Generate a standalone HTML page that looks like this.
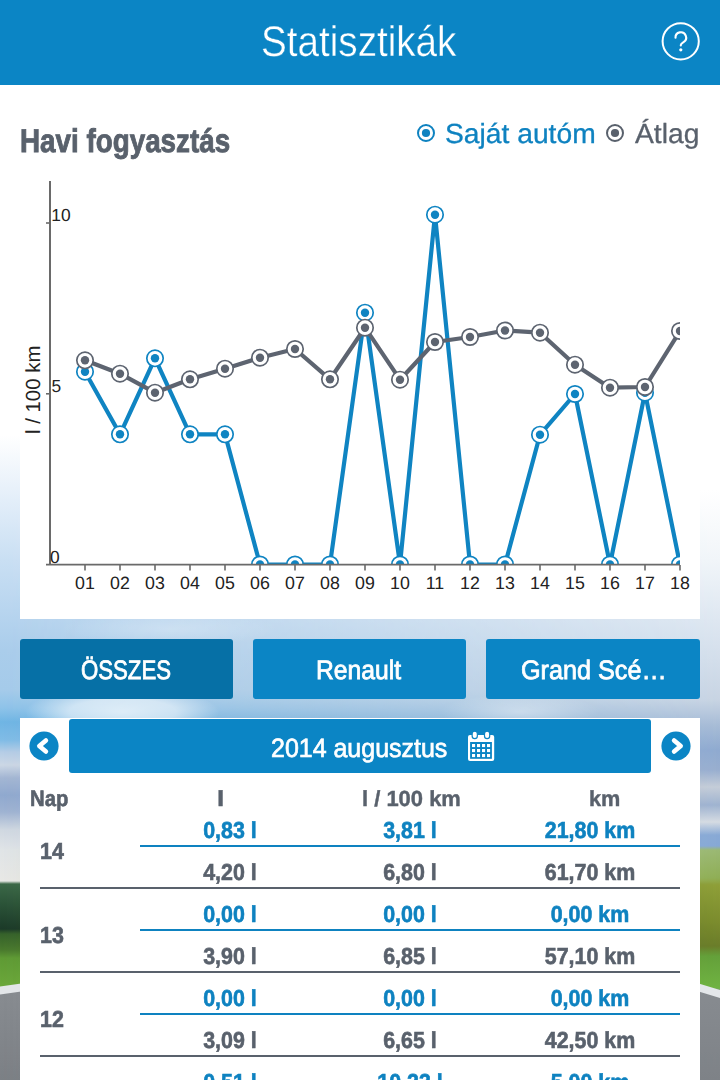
<!DOCTYPE html>
<html lang="hu"><head><meta charset="utf-8"><title>Statisztikák</title><style>
html,body{margin:0;padding:0;}
body{width:720px;height:1080px;overflow:hidden;position:relative;background:#fff;font-family:"Liberation Sans",sans-serif;text-rendering:geometricPrecision;}
#app{position:absolute;left:0;top:0;width:720px;height:1080px;overflow:hidden;}
.abs{position:absolute;}
.t{position:absolute;white-space:nowrap;line-height:1;transform-origin:0 0;display:block;}
.v{position:absolute;white-space:nowrap;line-height:1;font-size:23.1px;font-weight:bold;display:block;transform:scaleX(0.928);transform-origin:0 0;-webkit-text-stroke:0.6px currentColor;}
.v.c{width:180px;text-align:center;transform-origin:50% 0;}
.ln{position:absolute;height:2px;display:block;}
.bgL,.bgR{position:absolute;left:0;top:0;width:720px;height:1080px;}
.bgL{background:linear-gradient(to bottom,#ffffff 0px,#ffffff 435px,#e3eef9 500px,#c9dff3 560px,#b8d5ef 610px,#aacdeb 650px,#a5cbea 690px,#8ec3e9 708px,#6fb5e4 722px,#80bce6 740px,#b5cde6 752px,#ccd7e5 765px,#a3b6d3 778px,#90a9cf 795px,#9fb3d2 812px,#d0d8e1 830px,#e0e4e7 850px,#e8e8e6 881px,#3b6848 884px,#2a5238 905px,#1c3a29 929px,#36622b 934px,#4a7a2e 950px,#5f9a35 958px,#6ca83b 987px,#888c91 990px,#7c8085 1080px);}
.bgR{background:linear-gradient(to bottom,#ffffff 0px,#ffffff 490px,#f1f5f9 560px,#dee7f1 620px,#d3deeb 660px,#c8d4e3 700px,#a8bcd6 725px,#8faad0 750px,#98aecf 770px,#c5cdd8 787px,#9fb3d0 805px,#d5dbe2 822px,#88a9d5 835px,#86a8d5 846px,#9ab873 850px,#8fae55 878px,#8f9f38 885px,#7d8e2e 920px,#6b7d2a 946px,#64a03a 956px,#70b342 988px,#878b90 991px,#7e8287 1080px);
-webkit-mask-image:linear-gradient(to right,transparent 0px,#000 720px);mask-image:linear-gradient(to right,transparent 0px,#000 720px);}
.cloud{position:absolute;border-radius:50%;}
.hdr{position:absolute;left:0;top:0;width:720px;height:84.5px;background:#0b85c5;}
.panel{position:absolute;background:#fff;}
.btn{position:absolute;top:639.2px;height:59.4px;border-radius:3px;background:#0b85c5;}
.bar{position:absolute;left:69.1px;top:719.0px;width:581.7px;height:53.8px;border-radius:3px;background:#0b85c5;}
.chart{position:absolute;left:0;top:160px;}
</style></head>
<body>
<div id="app">
<div class="bgL"></div><div class="bgR"></div>
<div class="abs" style="left:-3px;top:985.2px;width:26px;height:8px;background:#e3e6e9;transform:skewY(-8deg)"></div>
<div class="abs" style="left:697px;top:986.6px;width:26px;height:7.5px;background:#e4e7ea;transform:skewY(17deg)"></div>
<div class="cloud" style="left:25px;top:688px;width:195px;height:48px;background:radial-gradient(closest-side,rgba(255,255,255,0.7) 0%,rgba(255,255,255,0.55) 55%,rgba(255,255,255,0) 100%)"></div>
<div class="cloud" style="left:440px;top:694px;width:160px;height:36px;background:radial-gradient(closest-side,rgba(255,255,255,0.38),rgba(255,255,255,0))"></div>
<div class="cloud" style="left:60px;top:612px;width:220px;height:34px;background:radial-gradient(closest-side,rgba(255,255,255,0.25),rgba(255,255,255,0))"></div>
<div class="hdr"></div>
<span class="t" style="left:261.27px;top:20.92px;font-size:42.86px;font-weight:normal;color:#ffffff;-webkit-text-stroke:0.4px #0b85c5;transform:scaleX(0.9017)">Statisztikák</span>
<svg class="abs" style="left:656px;top:17px" width="50" height="50" viewBox="656 17 50 50"><circle cx="680.7" cy="41.3" r="18.1" fill="none" stroke="#fff" stroke-width="2"/><path d="M675.5 37.8 a5.3 5.3 0 1 1 8.0 4.3 q-2.7 1.6 -2.7 3.0 v0.4" fill="none" stroke="#fff" stroke-width="2.1" stroke-linecap="round"/><circle cx="680.8" cy="49.8" r="1.6" fill="#fff"/></svg>
<div class="panel" style="left:20px;top:100px;width:680px;height:518.7px"></div>
<span class="t" style="left:20.01px;top:124.74px;font-size:32.85px;font-weight:bold;color:#59616c;-webkit-text-stroke:0.9px #59616c;transform:scaleX(0.8470)">Havi fogyasztás</span>
<svg class="abs" style="left:414.0px;top:120.9px" width="24" height="24" viewBox="0 0 24 24"><circle cx="12" cy="12" r="8.0" fill="#fff" stroke="#0e82c0" stroke-width="2"/><circle cx="12" cy="12" r="4.1" fill="#0e82c0"/></svg><span class="t" style="left:445.02px;top:120.22px;font-size:27.68px;font-weight:normal;color:#0e82c0;-webkit-text-stroke:0.3px #0e82c0;transform:scaleX(1.0202)">Saját autóm</span>
<svg class="abs" style="left:602.8px;top:120.9px" width="24" height="24" viewBox="0 0 24 24"><circle cx="12" cy="12" r="8.0" fill="#fff" stroke="#59616c" stroke-width="2"/><circle cx="12" cy="12" r="4.1" fill="#59616c"/></svg><span class="t" style="left:635.15px;top:120.22px;font-size:27.68px;font-weight:normal;color:#59616c;-webkit-text-stroke:0.3px #59616c;transform:scaleX(1.0204)">Átlag</span>
<svg class="chart" width="720" height="460" viewBox="0 160 720 460">
<defs><clipPath id="plot"><rect x="50" y="170" width="630" height="394.5"/></clipPath></defs>
<g clip-path="url(#plot)"><polyline points="85,371.7 120,434.3 155,358.3 190,434.3 225,434.3 260,564.5 295,564.5 330,564.5 365,312.7 400,564.5 435,214.7 470,564.5 505,564.5 540,434.7 575,394.0 610,564.5 645,392.7 680,564.5" fill="none" stroke="#0f84c2" stroke-width="4.2" stroke-linejoin="round"/>
<circle cx="85" cy="371.7" r="8.2" fill="#fff" stroke="#0f84c2" stroke-width="1.7"/><circle cx="85" cy="371.7" r="4.2" fill="#0f84c2"/>
<circle cx="120" cy="434.3" r="8.2" fill="#fff" stroke="#0f84c2" stroke-width="1.7"/><circle cx="120" cy="434.3" r="4.2" fill="#0f84c2"/>
<circle cx="155" cy="358.3" r="8.2" fill="#fff" stroke="#0f84c2" stroke-width="1.7"/><circle cx="155" cy="358.3" r="4.2" fill="#0f84c2"/>
<circle cx="190" cy="434.3" r="8.2" fill="#fff" stroke="#0f84c2" stroke-width="1.7"/><circle cx="190" cy="434.3" r="4.2" fill="#0f84c2"/>
<circle cx="225" cy="434.3" r="8.2" fill="#fff" stroke="#0f84c2" stroke-width="1.7"/><circle cx="225" cy="434.3" r="4.2" fill="#0f84c2"/>
<circle cx="260" cy="564.5" r="8.2" fill="#fff" stroke="#0f84c2" stroke-width="1.7"/><circle cx="260" cy="564.5" r="4.2" fill="#0f84c2"/>
<circle cx="295" cy="564.5" r="8.2" fill="#fff" stroke="#0f84c2" stroke-width="1.7"/><circle cx="295" cy="564.5" r="4.2" fill="#0f84c2"/>
<circle cx="330" cy="564.5" r="8.2" fill="#fff" stroke="#0f84c2" stroke-width="1.7"/><circle cx="330" cy="564.5" r="4.2" fill="#0f84c2"/>
<circle cx="365" cy="312.7" r="8.2" fill="#fff" stroke="#0f84c2" stroke-width="1.7"/><circle cx="365" cy="312.7" r="4.2" fill="#0f84c2"/>
<circle cx="400" cy="564.5" r="8.2" fill="#fff" stroke="#0f84c2" stroke-width="1.7"/><circle cx="400" cy="564.5" r="4.2" fill="#0f84c2"/>
<circle cx="435" cy="214.7" r="8.2" fill="#fff" stroke="#0f84c2" stroke-width="1.7"/><circle cx="435" cy="214.7" r="4.2" fill="#0f84c2"/>
<circle cx="470" cy="564.5" r="8.2" fill="#fff" stroke="#0f84c2" stroke-width="1.7"/><circle cx="470" cy="564.5" r="4.2" fill="#0f84c2"/>
<circle cx="505" cy="564.5" r="8.2" fill="#fff" stroke="#0f84c2" stroke-width="1.7"/><circle cx="505" cy="564.5" r="4.2" fill="#0f84c2"/>
<circle cx="540" cy="434.7" r="8.2" fill="#fff" stroke="#0f84c2" stroke-width="1.7"/><circle cx="540" cy="434.7" r="4.2" fill="#0f84c2"/>
<circle cx="575" cy="394.0" r="8.2" fill="#fff" stroke="#0f84c2" stroke-width="1.7"/><circle cx="575" cy="394.0" r="4.2" fill="#0f84c2"/>
<circle cx="610" cy="564.5" r="8.2" fill="#fff" stroke="#0f84c2" stroke-width="1.7"/><circle cx="610" cy="564.5" r="4.2" fill="#0f84c2"/>
<circle cx="645" cy="392.7" r="8.2" fill="#fff" stroke="#0f84c2" stroke-width="1.7"/><circle cx="645" cy="392.7" r="4.2" fill="#0f84c2"/>
<circle cx="680" cy="564.5" r="8.2" fill="#fff" stroke="#0f84c2" stroke-width="1.7"/><circle cx="680" cy="564.5" r="4.2" fill="#0f84c2"/>
</g>
<g clip-path="url(#plot)"><polyline points="85,360.3 120,373.7 155,392.7 190,379.3 225,368.7 260,357.7 295,349.0 330,379.3 365,327.7 400,379.7 435,342.0 470,337.0 505,330.5 540,332.7 575,364.7 610,387.7 645,387.0 680,331.0" fill="none" stroke="#5d6470" stroke-width="4.2" stroke-linejoin="round"/>
<circle cx="85" cy="360.3" r="8.2" fill="#fff" stroke="#5d6470" stroke-width="1.7"/><circle cx="85" cy="360.3" r="4.2" fill="#5d6470"/>
<circle cx="120" cy="373.7" r="8.2" fill="#fff" stroke="#5d6470" stroke-width="1.7"/><circle cx="120" cy="373.7" r="4.2" fill="#5d6470"/>
<circle cx="155" cy="392.7" r="8.2" fill="#fff" stroke="#5d6470" stroke-width="1.7"/><circle cx="155" cy="392.7" r="4.2" fill="#5d6470"/>
<circle cx="190" cy="379.3" r="8.2" fill="#fff" stroke="#5d6470" stroke-width="1.7"/><circle cx="190" cy="379.3" r="4.2" fill="#5d6470"/>
<circle cx="225" cy="368.7" r="8.2" fill="#fff" stroke="#5d6470" stroke-width="1.7"/><circle cx="225" cy="368.7" r="4.2" fill="#5d6470"/>
<circle cx="260" cy="357.7" r="8.2" fill="#fff" stroke="#5d6470" stroke-width="1.7"/><circle cx="260" cy="357.7" r="4.2" fill="#5d6470"/>
<circle cx="295" cy="349.0" r="8.2" fill="#fff" stroke="#5d6470" stroke-width="1.7"/><circle cx="295" cy="349.0" r="4.2" fill="#5d6470"/>
<circle cx="330" cy="379.3" r="8.2" fill="#fff" stroke="#5d6470" stroke-width="1.7"/><circle cx="330" cy="379.3" r="4.2" fill="#5d6470"/>
<circle cx="365" cy="327.7" r="8.2" fill="#fff" stroke="#5d6470" stroke-width="1.7"/><circle cx="365" cy="327.7" r="4.2" fill="#5d6470"/>
<circle cx="400" cy="379.7" r="8.2" fill="#fff" stroke="#5d6470" stroke-width="1.7"/><circle cx="400" cy="379.7" r="4.2" fill="#5d6470"/>
<circle cx="435" cy="342.0" r="8.2" fill="#fff" stroke="#5d6470" stroke-width="1.7"/><circle cx="435" cy="342.0" r="4.2" fill="#5d6470"/>
<circle cx="470" cy="337.0" r="8.2" fill="#fff" stroke="#5d6470" stroke-width="1.7"/><circle cx="470" cy="337.0" r="4.2" fill="#5d6470"/>
<circle cx="505" cy="330.5" r="8.2" fill="#fff" stroke="#5d6470" stroke-width="1.7"/><circle cx="505" cy="330.5" r="4.2" fill="#5d6470"/>
<circle cx="540" cy="332.7" r="8.2" fill="#fff" stroke="#5d6470" stroke-width="1.7"/><circle cx="540" cy="332.7" r="4.2" fill="#5d6470"/>
<circle cx="575" cy="364.7" r="8.2" fill="#fff" stroke="#5d6470" stroke-width="1.7"/><circle cx="575" cy="364.7" r="4.2" fill="#5d6470"/>
<circle cx="610" cy="387.7" r="8.2" fill="#fff" stroke="#5d6470" stroke-width="1.7"/><circle cx="610" cy="387.7" r="4.2" fill="#5d6470"/>
<circle cx="645" cy="387.0" r="8.2" fill="#fff" stroke="#5d6470" stroke-width="1.7"/><circle cx="645" cy="387.0" r="4.2" fill="#5d6470"/>
<circle cx="680" cy="331.0" r="8.2" fill="#fff" stroke="#5d6470" stroke-width="1.7"/><circle cx="680" cy="331.0" r="4.2" fill="#5d6470"/>
</g>
<g stroke="#6a6a6a" stroke-width="1.6" fill="none">
<line x1="50" y1="181" x2="50" y2="565" stroke-width="2"/>
<line x1="46" y1="564.6" x2="680" y2="564.6"/>
<line x1="46" y1="223.0" x2="50" y2="223.0"/>
<line x1="46" y1="393.8" x2="50" y2="393.8"/>
<line x1="85" y1="565" x2="85" y2="570.5"/>
<line x1="120" y1="565" x2="120" y2="570.5"/>
<line x1="155" y1="565" x2="155" y2="570.5"/>
<line x1="190" y1="565" x2="190" y2="570.5"/>
<line x1="225" y1="565" x2="225" y2="570.5"/>
<line x1="260" y1="565" x2="260" y2="570.5"/>
<line x1="295" y1="565" x2="295" y2="570.5"/>
<line x1="330" y1="565" x2="330" y2="570.5"/>
<line x1="365" y1="565" x2="365" y2="570.5"/>
<line x1="400" y1="565" x2="400" y2="570.5"/>
<line x1="435" y1="565" x2="435" y2="570.5"/>
<line x1="470" y1="565" x2="470" y2="570.5"/>
<line x1="505" y1="565" x2="505" y2="570.5"/>
<line x1="540" y1="565" x2="540" y2="570.5"/>
<line x1="575" y1="565" x2="575" y2="570.5"/>
<line x1="610" y1="565" x2="610" y2="570.5"/>
<line x1="645" y1="565" x2="645" y2="570.5"/>
<line x1="680" y1="565" x2="680" y2="570.5"/>
</g>
<g font-family="'Liberation Sans', sans-serif" fill="#222" font-size="17.4">
<text x="51.3" y="221.4">10</text>
<text x="51.4" y="392.2">5</text>
<text x="50.0" y="563.0">0</text>
<text x="85" y="588.6" text-anchor="middle" font-size="17.8">01</text>
<text x="120" y="588.6" text-anchor="middle" font-size="17.8">02</text>
<text x="155" y="588.6" text-anchor="middle" font-size="17.8">03</text>
<text x="190" y="588.6" text-anchor="middle" font-size="17.8">04</text>
<text x="225" y="588.6" text-anchor="middle" font-size="17.8">05</text>
<text x="260" y="588.6" text-anchor="middle" font-size="17.8">06</text>
<text x="295" y="588.6" text-anchor="middle" font-size="17.8">07</text>
<text x="330" y="588.6" text-anchor="middle" font-size="17.8">08</text>
<text x="365" y="588.6" text-anchor="middle" font-size="17.8">09</text>
<text x="400" y="588.6" text-anchor="middle" font-size="17.8">10</text>
<text x="435" y="588.6" text-anchor="middle" font-size="17.8">11</text>
<text x="470" y="588.6" text-anchor="middle" font-size="17.8">12</text>
<text x="505" y="588.6" text-anchor="middle" font-size="17.8">13</text>
<text x="540" y="588.6" text-anchor="middle" font-size="17.8">14</text>
<text x="575" y="588.6" text-anchor="middle" font-size="17.8">15</text>
<text x="610" y="588.6" text-anchor="middle" font-size="17.8">16</text>
<text x="645" y="588.6" text-anchor="middle" font-size="17.8">17</text>
<text x="680" y="588.6" text-anchor="middle" font-size="17.8">18</text>
<text transform="translate(39.6,389.8) rotate(-90)" text-anchor="middle" font-size="20.4">l / 100 km</text>
</g></svg>
<div class="btn" style="left:20px;width:212.7px;background:#0670a6"></div><span class="t" style="left:81.14px;top:656.89px;font-size:26.71px;font-weight:normal;color:#ffffff;-webkit-text-stroke:0.8px #ffffff;transform:scaleX(0.8309)">ÖSSZES</span>
<div class="btn" style="left:253.3px;width:212.7px"></div><span class="t" style="left:315.69px;top:656.89px;font-size:26.71px;font-weight:normal;color:#ffffff;-webkit-text-stroke:0.8px #ffffff;transform:scaleX(0.9251)">Renault</span>
<div class="btn" style="left:486px;width:214px"></div><span class="t" style="left:520.82px;top:656.89px;font-size:26.71px;font-weight:normal;color:#ffffff;-webkit-text-stroke:0.8px #ffffff;transform:scaleX(0.9434)">Grand Scé…</span>
<div class="panel" style="left:20px;top:718.4px;width:680px;height:370px"></div>
<div class="bar"></div>
<svg class="abs" style="left:28.2px;top:729.6px" width="32" height="32" viewBox="-16 -16 32 32"><circle cx="0" cy="0" r="14.6" fill="#0b85c5"/><polyline points="1.9,-5.6 -4.7,0 1.9,5.6" fill="none" stroke="#fff" stroke-width="4.6" stroke-linecap="round" stroke-linejoin="round"/></svg>
<svg class="abs" style="left:659.7px;top:729.6px" width="32" height="32" viewBox="-16 -16 32 32"><circle cx="0" cy="0" r="14.6" fill="#0b85c5"/><polyline points="-1.9,-5.6 4.7,0 -1.9,5.6" fill="none" stroke="#fff" stroke-width="4.6" stroke-linecap="round" stroke-linejoin="round"/></svg>
<span class="t" style="left:271.38px;top:734.68px;font-size:26.43px;font-weight:normal;color:#ffffff;-webkit-text-stroke:0.7px #ffffff;transform:scaleX(0.9449)">2014 augusztus</span>
<svg class="abs" style="left:464px;top:728px" width="36" height="38" viewBox="464 728 36 38"><rect x="468" y="735" width="26.2" height="26" rx="2" fill="#fff"/><rect x="470.1" y="742" width="21.8" height="16.8" fill="#0b85c5"/><rect x="472.15" y="731.2" width="5.2" height="7.4" rx="2.6" fill="#fff" stroke="#0b85c5" stroke-width="1.2"/><rect x="484.5" y="731.2" width="5.2" height="7.4" rx="2.6" fill="#fff" stroke="#0b85c5" stroke-width="1.2"/><rect x="472" y="744" width="3.1" height="3.1" fill="#fff"/><rect x="472" y="749" width="3.1" height="3.1" fill="#fff"/><rect x="472" y="754" width="3.1" height="3.1" fill="#fff"/><rect x="477" y="744" width="3.1" height="3.1" fill="#fff"/><rect x="477" y="749" width="3.1" height="3.1" fill="#fff"/><rect x="477" y="754" width="3.1" height="3.1" fill="#fff"/><rect x="482" y="744" width="3.1" height="3.1" fill="#fff"/><rect x="482" y="749" width="3.1" height="3.1" fill="#fff"/><rect x="482" y="754" width="3.1" height="3.1" fill="#fff"/><rect x="487" y="744" width="3.1" height="3.1" fill="#fff"/><rect x="487" y="749" width="3.1" height="3.1" fill="#fff"/><rect x="487" y="754" width="3.1" height="3.1" fill="#fff"/></svg>
<span class="t" style="left:29.76px;top:787.64px;font-size:22.29px;font-weight:bold;color:#59616c;-webkit-text-stroke:0.6px #59616c;transform:scaleX(0.9097)">Nap</span><span class="t" style="left:216.77px;top:788.15px;font-size:21.79px;font-weight:bold;color:#59616c;-webkit-text-stroke:0.4px #59616c;transform:scaleX(1.2000)">l</span><span class="t" style="left:362.18px;top:788.15px;font-size:21.79px;font-weight:bold;color:#59616c;-webkit-text-stroke:0.4px #59616c;transform:scaleX(1.0080)">l / 100 km</span><span class="t" style="left:588.60px;top:788.15px;font-size:21.79px;font-weight:bold;color:#59616c;-webkit-text-stroke:0.4px #59616c;transform:scaleX(0.9966)">km</span>
<span class="v" style="left:39.9px;top:839.85px;color:#59616c">14</span>
<span class="v c" style="left:139.5px;top:819.25px;color:#0e82c0">0,83 l</span>
<span class="v c" style="left:319.5px;top:819.25px;color:#0e82c0">3,81 l</span>
<span class="v c" style="left:500.0px;top:819.25px;color:#0e82c0">21,80 km</span>
<i class="ln" style="left:140px;width:540px;top:845.2px;background:#0e82c0"></i>
<span class="v c" style="left:139.5px;top:861.05px;color:#59616c">4,20 l</span>
<span class="v c" style="left:319.5px;top:861.05px;color:#59616c">6,80 l</span>
<span class="v c" style="left:500.0px;top:861.05px;color:#59616c">61,70 km</span>
<i class="ln" style="left:40px;width:640px;top:887.4px;background:#59616c"></i>
<span class="v" style="left:39.9px;top:923.85px;color:#59616c">13</span>
<span class="v c" style="left:139.5px;top:903.25px;color:#0e82c0">0,00 l</span>
<span class="v c" style="left:319.5px;top:903.25px;color:#0e82c0">0,00 l</span>
<span class="v c" style="left:500.0px;top:903.25px;color:#0e82c0">0,00 km</span>
<i class="ln" style="left:140px;width:540px;top:929.2px;background:#0e82c0"></i>
<span class="v c" style="left:139.5px;top:945.05px;color:#59616c">3,90 l</span>
<span class="v c" style="left:319.5px;top:945.05px;color:#59616c">6,85 l</span>
<span class="v c" style="left:500.0px;top:945.05px;color:#59616c">57,10 km</span>
<i class="ln" style="left:40px;width:640px;top:971.4px;background:#59616c"></i>
<span class="v" style="left:39.9px;top:1007.85px;color:#59616c">12</span>
<span class="v c" style="left:139.5px;top:987.25px;color:#0e82c0">0,00 l</span>
<span class="v c" style="left:319.5px;top:987.25px;color:#0e82c0">0,00 l</span>
<span class="v c" style="left:500.0px;top:987.25px;color:#0e82c0">0,00 km</span>
<i class="ln" style="left:140px;width:540px;top:1013.2px;background:#0e82c0"></i>
<span class="v c" style="left:139.5px;top:1029.05px;color:#59616c">3,09 l</span>
<span class="v c" style="left:319.5px;top:1029.05px;color:#59616c">6,65 l</span>
<span class="v c" style="left:500.0px;top:1029.05px;color:#59616c">42,50 km</span>
<i class="ln" style="left:40px;width:640px;top:1055.4px;background:#59616c"></i>
<span class="v" style="left:39.9px;top:1091.85px;color:#59616c">11</span>
<span class="v c" style="left:139.5px;top:1071.25px;color:#0e82c0">0,51 l</span>
<span class="v c" style="left:319.5px;top:1071.25px;color:#0e82c0">10,23 l</span>
<span class="v c" style="left:500.0px;top:1071.25px;color:#0e82c0">5,00 km</span>
<i class="ln" style="left:140px;width:540px;top:1097.2px;background:#0e82c0"></i>
<span class="v c" style="left:139.5px;top:1113.05px;color:#59616c">3,45 l</span>
<span class="v c" style="left:319.5px;top:1113.05px;color:#59616c">6,40 l</span>
<span class="v c" style="left:500.0px;top:1113.05px;color:#59616c">53,90 km</span>
<i class="ln" style="left:40px;width:640px;top:1139.4px;background:#59616c"></i>
</div>
</body></html>
